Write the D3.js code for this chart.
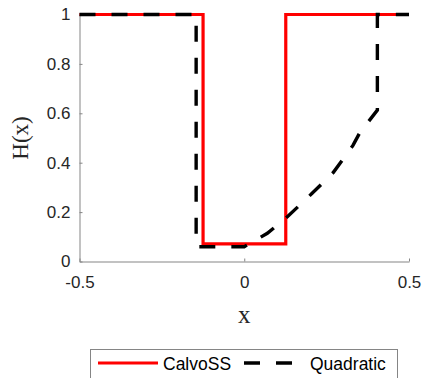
<!DOCTYPE html>
<html><head><meta charset="utf-8">
<script src="https://cdn.jsdelivr.net/npm/d3@7"></script>
<style>body{margin:0;background:#fff}svg{display:block}</style>
</head><body>
<script>
const xTicks = [-0.5, 0, 0.5];
const xTickLabels = ["-0.5", "0", "0.5"];
const yTicks = [0, 0.2, 0.4, 0.6, 0.8, 1];
const yTickLabels = ["0", "0.2", "0.4", "0.6", "0.8", "1"];
const seriesNames = ["CalvoSS", "Quadratic"];
const calvoX = [-0.5, -0.125, -0.125, 0.126, 0.126, 0.5];
const calvoY = [1, 1, 0.071, 0.071, 1, 1];
const quadX = [-0.5, -0.146, -0.146, 0, 0.07, 0.13, 0.206, 0.27, 0.33, 0.35, 0.404, 0.404, 0.5];
const quadY = [1, 1, 0.06, 0.06, 0.114, 0.18, 0.276, 0.36, 0.47, 0.52, 0.613, 1, 1];

const W = 424, H = 378;
const svg = d3.select("body").append("svg").attr("width", W).attr("height", H);
const x = d3.scaleLinear().domain([-0.5, 0.5]).range([79.5, 409]);
const y = d3.scaleLinear().domain([0, 1]).range([261.5, 14.5]);
const axisColor = "#858585", textColor = "#262626";
const sans = "'Liberation Sans', Arial, sans-serif";
const serif = "'Liberation Serif', 'Times New Roman', serif";

const gx = svg.append("g").attr("transform", `translate(0,${y(0)})`)
  .call(d3.axisBottom(x).tickValues(xTicks).tickFormat((d,i)=>xTickLabels[i]).tickSizeInner(-3).tickSizeOuter(0).tickPadding(14));
const gy = svg.append("g").attr("transform", `translate(${x(-0.5)},0)`)
  .call(d3.axisLeft(y).tickValues(yTicks).tickFormat((d,i)=>yTickLabels[i]).tickSizeInner(-3).tickSizeOuter(0).tickPadding(9));
[gx, gy].forEach(g => {
  g.select(".domain").attr("stroke", axisColor);
  g.selectAll(".tick line").attr("stroke", axisColor);
  g.selectAll(".tick text").attr("fill", textColor).style("font-family", sans).style("font-size", "17px");
});

const line = d3.line().x(d => x(d[0])).y(d => y(d[1]));
svg.append("path").datum(calvoX.map((v,i)=>[v, calvoY[i]]))
  .attr("d", line).attr("fill", "none").attr("stroke", "#ff0000").attr("stroke-width", 3.2);
svg.append("path").datum(quadX.map((v,i)=>[v, quadY[i]]))
  .attr("d", line).attr("fill", "none").attr("stroke", "#000").attr("stroke-width", 3.4)
  .attr("stroke-dasharray", "16,16");

svg.append("text").attr("x", x(0)).attr("y", 323).attr("text-anchor", "middle")
  .style("font-family", serif).style("font-size", "25px").attr("fill", textColor).text("x");
svg.append("text").attr("transform", `translate(28,${y(0.5)}) rotate(-90)`).attr("text-anchor", "middle")
  .style("font-family", serif).style("font-size", "23px").attr("fill", textColor).text("H(x)");

// legend
const lg = svg.append("g");
lg.append("rect").attr("x", 90.5).attr("y", 349.5).attr("width", 307).attr("height", 50)
  .attr("fill", "#fff").attr("stroke", axisColor);
lg.append("line").attr("x1", 98).attr("x2", 158).attr("y1", 363).attr("y2", 363)
  .attr("stroke", "#ff0000").attr("stroke-width", 3.2);
lg.append("text").attr("x", 163).attr("y", 369.5).style("font-family", sans).style("font-size", "17.5px")
  .attr("fill", "#000").text(seriesNames[0]);
lg.append("line").attr("x1", 244).attr("x2", 292).attr("y1", 363).attr("y2", 363)
  .attr("stroke", "#000").attr("stroke-width", 3.4).attr("stroke-dasharray", "16,16");
lg.append("text").attr("x", 310).attr("y", 369.5).style("font-family", sans).style("font-size", "17.5px")
  .attr("fill", "#000").text(seriesNames[1]);
</script>
</body></html>
